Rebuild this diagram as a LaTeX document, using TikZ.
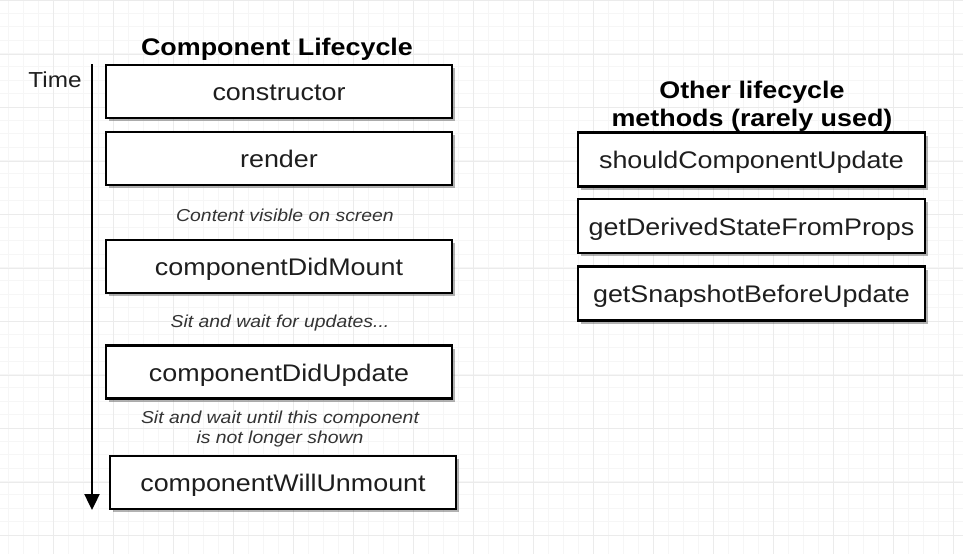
\documentclass[tikz,border=0pt]{standalone}
\usepackage{fontspec}
\setmainfont{Liberation Sans}[FakeStretch=1.12]
\usetikzlibrary{arrows.meta,shadows}
\definecolor{gridminor}{HTML}{F6F6F6}
\definecolor{gridmajor}{HTML}{EBEBEB}
\definecolor{txt}{HTML}{1E1E1E}
\definecolor{itxt}{HTML}{333333}
\begin{document}
\begin{tikzpicture}[x=1pt,y=-1pt,
  methodbox/.style={draw=black, line width=2.5pt, fill=white, minimum width=346pt, minimum height=53pt,
    inner sep=0pt, text height=18pt, text depth=0pt, text=txt, font=\fontsize{24}{28}\selectfont,
    drop shadow={shadow xshift=2.5pt, shadow yshift=-3pt, opacity=0.3, fill=black}},
  titletext/.style={text=black, font=\fontsize{24}{28}\selectfont\bfseries, align=center, inner sep=0pt},
  notetext/.style={text=itxt, font=\fontsize{17.3}{20}\selectfont\itshape, align=center, inner sep=0pt},
  timetext/.style={text=txt, font=\fontsize{21.7}{24}\selectfont, inner sep=0pt},
  timeline/.style={line width=2.4pt, draw=black, -{Triangle[width=15pt,length=16pt]}}
]
\useasboundingbox (0,0) rectangle (963,554);
\fill[white] (0,0) rectangle (963,554);
% grid
\foreach \i in {0,...,64} {\draw[gridminor, line width=0.8pt] ({-7+15*\i},0) -- ({-7+15*\i},554);}
\foreach \j in {0,...,42} {\draw[gridminor, line width=0.8pt] (0,{-26.75+13.375*\j}) -- (963,{-26.75+13.375*\j});}
\foreach \i in {0,...,16} {\draw[gridmajor, line width=1pt] ({-7+60*\i},0) -- ({-7+60*\i},554);}
\foreach \j in {0,...,10} {\draw[gridmajor, line width=1pt] (0,{0.5+53.5*\j}) -- (963,{0.5+53.5*\j});}

% left column
\node[titletext] (title) at (277,49) {Component Lifecycle};
\node[timetext] (time) at (55,80) {Time};
\coordinate (tstart) at (92,64);
\coordinate (tend) at (92,510);
\draw[timeline] (tstart) -- (tend);

\node[methodbox] (constructor) at (279,91.5) {constructor};
\node[methodbox] (render) at (279,158.5) {render};
\node[notetext] (visible) at (285,215) {Content visible on screen};
\node[methodbox] (didmount) at (279,266.5) {componentDidMount};
\node[notetext] (wait1) at (280,323) {Sit and wait for updates...};
\node[methodbox] (didupdate) at (279,372) {componentDidUpdate};
\node[notetext] (wait2) at (280,429) {Sit and wait until this component\\is not longer shown};
\node[methodbox] (willunmount) at (283,482.5) {componentWillUnmount};

% right column
\node[titletext] (other) at (752,106) {Other lifecycle\\methods (rarely used)};
\node[methodbox, minimum width=347pt, minimum height=54pt] (should) at (751.5,159.5) {shouldComponentUpdate};
\node[methodbox, minimum width=347pt, minimum height=54pt] (derived) at (751.5,226) {getDerivedStateFromProps};
\node[methodbox, minimum width=347pt, minimum height=54pt] (snapshot) at (751.5,293.5) {getSnapshotBeforeUpdate};
\end{tikzpicture}
\end{document}
